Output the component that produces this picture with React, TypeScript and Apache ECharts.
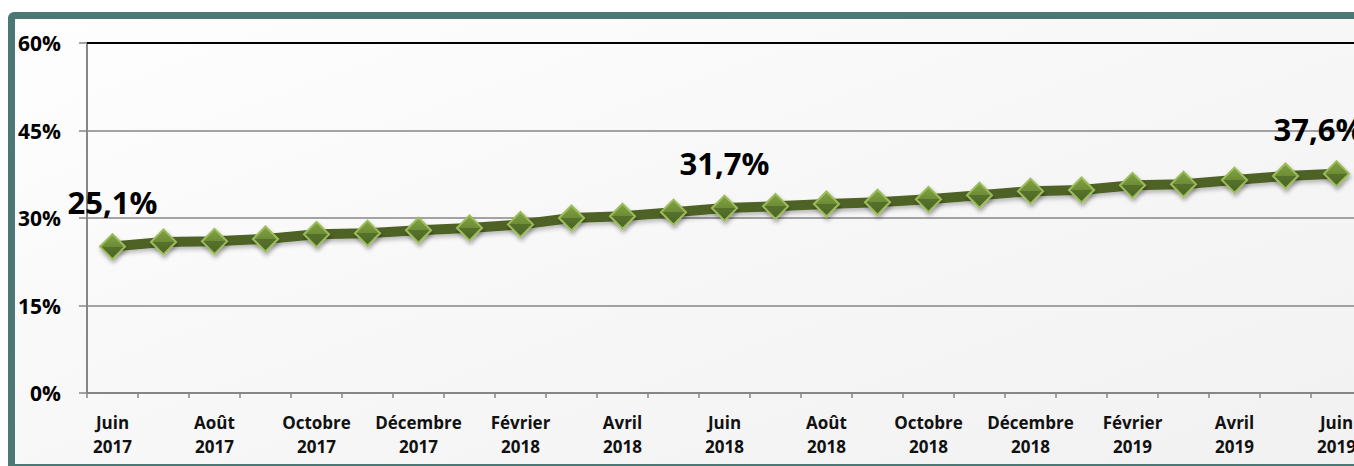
import React, { useEffect, useRef } from "react";
import * as echarts from "echarts";

const months = [
  "Juin\n2017", "Juillet\n2017", "Août\n2017", "Septembre\n2017", "Octobre\n2017", "Novembre\n2017",
  "Décembre\n2017", "Janvier\n2018", "Février\n2018", "Mars\n2018", "Avril\n2018", "Mai\n2018",
  "Juin\n2018", "Juillet\n2018", "Août\n2018", "Septembre\n2018", "Octobre\n2018", "Novembre\n2018",
  "Décembre\n2018", "Janvier\n2019", "Février\n2019", "Mars\n2019", "Avril\n2019", "Mai\n2019", "Juin\n2019",
];

const rates = [
  25.1, 25.9, 26.0, 26.4, 27.2, 27.4, 27.9, 28.3, 28.9, 30.0, 30.3, 31.0,
  31.7, 32.0, 32.4, 32.7, 33.2, 33.9, 34.6, 34.8, 35.6, 35.8, 36.5, 37.2, 37.6,
];

const labelledIndices = [0, 12, 24];
const yTicks = [0, 15, 30, 45, 60];

const FONT = "'Open Sans', 'Noto Sans', sans-serif";

export default function App() {
  const ref = useRef<HTMLDivElement>(null);

  useEffect(() => {
    if (!ref.current) return;
    const chart = echarts.init(ref.current, undefined, { renderer: "svg" });

    const markerFill = new echarts.graphic.LinearGradient(0, 0, 0, 1, [
      { offset: 0, color: "#82a345" },
      { offset: 0.5, color: "#6d8c36" },
      { offset: 0.5, color: "#56712b" },
      { offset: 1, color: "#4c6526" },
    ]);

    const data = rates.map((v, i) => {
      if (!labelledIndices.includes(i)) return v;
      return {
        value: v,
        label: {
          show: true,
          position: "top",
          distance: 16,
          offset: i === rates.length - 1 ? [-18, 0] : [0, 0],
          formatter: (p: any) => p.value.toFixed(1).replace(".", ",") + "%",
          fontFamily: FONT,
          fontWeight: "bold",
          fontSize: 31,
          color: "#000",
        },
      };
    });

    chart.setOption({
      animation: false,
      backgroundColor: "transparent",
      grid: { left: 87, top: 43, bottom: 73, width: 1275, containLabel: false },
      xAxis: {
        type: "category",
        data: months,
        boundaryGap: true,
        axisLine: { show: true, lineStyle: { color: "#868686", width: 2 } },
        axisTick: { show: true, interval: 0, length: 5, lineStyle: { color: "#868686", width: 1.5 } },
        axisLabel: {
          interval: 1,
          margin: 17,
          fontFamily: FONT,
          fontWeight: "bold",
          fontSize: 17,
          lineHeight: 24,
          color: "#111",
        },
        splitLine: { show: false },
      },
      yAxis: {
        type: "value",
        min: yTicks[0],
        max: yTicks[yTicks.length - 1],
        interval: 15,
        axisLine: { show: true, lineStyle: { color: "#868686", width: 2 } },
        axisTick: { show: true, length: 8, lineStyle: { color: "#868686", width: 1.5 } },
        axisLabel: {
          margin: 26,
          formatter: "{value}%",
          fontFamily: FONT,
          fontWeight: "bold",
          fontSize: 21,
          color: "#000",
        },
        splitLine: { show: true, lineStyle: { color: "#868686", width: 1.5 } },
      },
      series: [
        {
          type: "line",
          data,
          symbol: "diamond",
          symbolSize: 25,
          showAllSymbol: true,
          lineStyle: {
            color: "#4f6228",
            width: 10,
            shadowColor: "rgba(0,0,0,0.25)",
            shadowBlur: 4,
            shadowOffsetY: 3,
          },
          itemStyle: {
            color: markerFill,
            borderColor: "#9dbd5c",
            borderWidth: 2,
            shadowColor: "rgba(0,0,0,0.35)",
            shadowBlur: 4,
            shadowOffsetX: 1,
            shadowOffsetY: 3,
          },
          markLine: {
            silent: true,
            symbol: "none",
            label: { show: false },
            lineStyle: { color: "#000", width: 2, type: "solid" },
            data: [{ yAxis: yTicks[yTicks.length - 1] }],
          },
          z: 3,
        },
      ],
    });

    return () => chart.dispose();
  }, []);

  return (
    <div
      style={{
        position: "fixed",
        left: 0,
        top: 0,
        width: 1354,
        height: 466,
        overflow: "hidden",
        background: "#ffffff",
      }}
    >
      <div
        style={{
          position: "absolute",
          left: 8,
          top: 12,
          width: 1420,
          height: 459,
          boxSizing: "border-box",
          border: "7px solid #4b7875",
          borderRadius: 6,
          background: "linear-gradient(160deg, #fefefe 0%, #f7f7f7 50%, #f1f1f1 100%)",
        }}
      />
      <div
        ref={ref}
        style={{ position: "absolute", left: 0, top: 0, width: 1420, height: 466 }}
      />
    </div>
  );
}
